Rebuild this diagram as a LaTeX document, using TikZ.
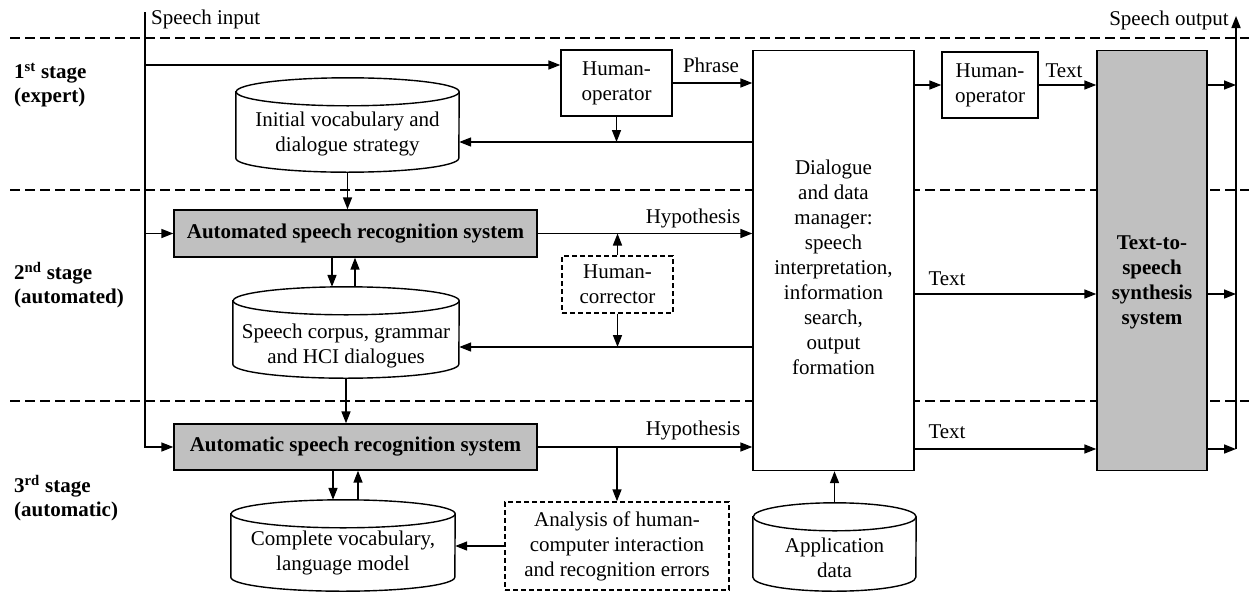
\documentclass[tikz,border=0pt]{standalone}
\usepackage{fontspec}
\setmainfont{Liberation Serif}
\usetikzlibrary{arrows.meta,calc}
\definecolor{boxgray}{RGB}{192,192,192}

% Cylinder outline drawn around a (borderless) node: #1 node name, #2 x radius, #3 y radius
\newcommand\drawcyl[3]{%
  \draw[line width=1.4pt, fill=white]
    ([yshift=-#3]#1.north west) -- ([yshift=#3]#1.south west)
    arc[start angle=180, end angle=360, x radius=#2, y radius=#3]
    -- ([yshift=-#3]#1.north east)
    arc[start angle=0, end angle=180, x radius=#2, y radius=#3] -- cycle;
  \draw[line width=1.4pt] ([yshift=-#3]#1.north east)
    arc[start angle=0, end angle=-180, x radius=#2, y radius=#3];
}

\begin{document}
\begin{tikzpicture}[x=1pt, y=-1pt,
  font=\fontsize{21}{25}\selectfont,
  conn/.style={line width=1.6pt},
  arr/.style={conn, -{Triangle[length=12pt,width=9pt]}},
  plainbox/.style={draw, line width=1.4pt, fill=white, inner sep=0pt, align=center},
  graybox/.style={plainbox, fill=boxgray, font=\fontsize{21}{25}\selectfont\bfseries},
  dashbox/.style={plainbox, dash pattern=on 5pt off 3pt},
  stageline/.style={line width=2pt, dash pattern=on 10pt off 5pt},
  cylbox/.style={inner sep=0pt, draw=none},
  txt/.style={inner sep=0pt, align=center},
  stage/.style={inner sep=0pt, align=left, anchor=west, font=\fontsize{21}{24}\selectfont\bfseries}
]
\useasboundingbox (0,0) rectangle (1249,592);

% stage separators
\draw[stageline] (10,38) -- (1249,38);
\draw[stageline] (10,190) -- (1249,190);
\draw[stageline] (10,401) -- (1249,401);

% stage titles
\node[stage] (s1) at (14,85) {1\textsuperscript{st} stage\\(expert)};
\node[stage] (s2) at (14,285) {2\textsuperscript{nd} stage\\(automated)};
\node[stage] (s3) at (14,498) {3\textsuperscript{rd} stage\\(automatic)};

% boxes
\node[plainbox, minimum width=111pt, minimum height=66pt] (ho1) at (616.5,83) {Human-\\operator};
\node[plainbox, minimum width=96pt, minimum height=66pt] (ho2) at (990,85) {Human-\\operator};
\node[plainbox, minimum width=161pt, minimum height=420pt] (dm) at (833.5,260.5) {};
\node[txt] (dmt) at (833.5,267) {Dialogue\\and data\\manager:\\speech\\interpretation,\\information\\search,\\output\\formation};
\node[graybox, minimum width=110pt, minimum height=420pt] (tts) at (1152,260.5) {};
\node[txt, font=\fontsize{21}{25}\selectfont\bfseries] (ttst) at (1152,282.5) {Text-to-\\speech\\synthesis\\system};
\node[graybox, minimum width=363pt, minimum height=47pt] (asr2) at (355.5,233.5) {Automated speech recognition system};
\node[graybox, minimum width=363pt, minimum height=46pt] (asr3) at (355.5,447) {Automatic speech recognition system};
\node[dashbox, minimum width=111pt, minimum height=57pt] (hc) at (617.5,284.5) {Human-\\corrector};
\node[dashbox, minimum width=224pt, minimum height=88pt] (an) at (617,546) {Analysis of human-\\computer interaction\\and recognition errors};

% databases
\node[cylbox, minimum width=223pt, minimum height=94pt] (c1) at (347.5,125) {};
\drawcyl{c1}{111.5pt}{14pt}
\node[txt] (c1t) at (347.5,134) {Initial vocabulary and\\dialogue strategy};

\node[cylbox, minimum width=226pt, minimum height=91pt] (c2) at (346,332.5) {};
\drawcyl{c2}{113pt}{14pt}
\node[txt] (c2t) at (346,346) {Speech corpus, grammar\\and HCI dialogues};

\node[cylbox, minimum width=224pt, minimum height=91pt] (c3) at (343,545.5) {};
\drawcyl{c3}{112pt}{14pt}
\node[txt] (c3t) at (343,553) {Complete vocabulary,\\language model};

\node[cylbox, minimum width=163pt, minimum height=88pt] (ad) at (834.5,547) {};
\drawcyl{ad}{81.5pt}{14pt}
\node[txt] (adt) at (834.5,558) {Application\\data};

% reference points
\coordinate (sin) at (145,12);
\coordinate (sout) at (1236,16);
\coordinate (r1) at (0,65);
\coordinate (fb1) at (0,142);
\coordinate (fb2) at (0,347);
\coordinate (t2) at (0,294);
\coordinate (t3) at (0,449);
\coordinate (c2a) at ([xshift=-14pt]c2.north);
\coordinate (c2b) at ([xshift=9pt]c2.north);
\coordinate (c3a) at ([xshift=-10pt]c3.north);
\coordinate (c3b) at ([xshift=15pt]c3.north);

% speech input
\draw[arr] (sin) |- (asr3.west);
\draw[arr] (sin |- r1) -- (ho1.west |- r1);
\draw[arr] (sin |- asr2.west) -- (asr2.west);

% stage 1
\draw[arr] (ho1.east) -- (ho1.east -| dm.west);
\draw[arr] (ho1.south) -- (ho1.south |- fb1);
\draw[arr] (dm.west |- fb1) -- (c1.east |- fb1);
\draw[arr] (c1.south) -- (c1.south |- asr2.north);
\draw[arr] (dm.east |- ho2.west) -- (ho2.west);
\draw[arr] (ho2.east) -- (ho2.east -| tts.west);

% stage 2
\draw[arr] (asr2.east) -- (asr2.east -| dm.west);
\draw[arr] (hc.north) -- (hc.north |- asr2.east);
\draw[arr] (hc.south) -- (hc.south |- fb2);
\draw[arr] (dm.west |- fb2) -- (c2.east |- fb2);
\draw[arr] (c2a |- asr2.south) -- (c2a);
\draw[arr] (c2b) -- (c2b |- asr2.south);
\draw[arr] (c2.south) -- (c2.south |- asr3.north);
\draw[arr] (dm.east |- t2) -- (tts.west |- t2);

% stage 3
\draw[arr] (asr3.east) -- (asr3.east -| dm.west);
\draw[arr] (an.north |- asr3.east) -- (an.north);
\draw[arr] (an.west) -- (an.west -| c3.east);
\draw[arr] (c3a |- asr3.south) -- (c3a);
\draw[arr] (c3b) -- (c3b |- asr3.south);
\draw[arr] (ad.north) -- (ad.north |- dm.south);
\draw[arr] (dm.east |- t3) -- (tts.west |- t3);

% speech output
\draw[arr] (tts.east |- ho2.east) -- (sout |- ho2.east);
\draw[arr] (tts.east |- t2) -- (sout |- t2);
\draw[arr] (tts.east |- t3) -- (sout |- t3);
\draw[arr] (sout |- t3) -- (sout);

% labels
\node[txt, anchor=west] (lin) at (151,19) {Speech input};
\node[txt, anchor=east] (lout) at (1229,20) {Speech output};
\node[txt] (lphrase) at (711,65) {Phrase};
\node[txt] (ltext1) at (1064,71) {Text};
\node[txt] (lhyp2) at (693,218) {Hypothesis};
\node[txt] (ltext2) at (947,279) {Text};
\node[txt] (lhyp3) at (693,430) {Hypothesis};
\node[txt] (ltext3) at (947,432) {Text};
\end{tikzpicture}
\end{document}
